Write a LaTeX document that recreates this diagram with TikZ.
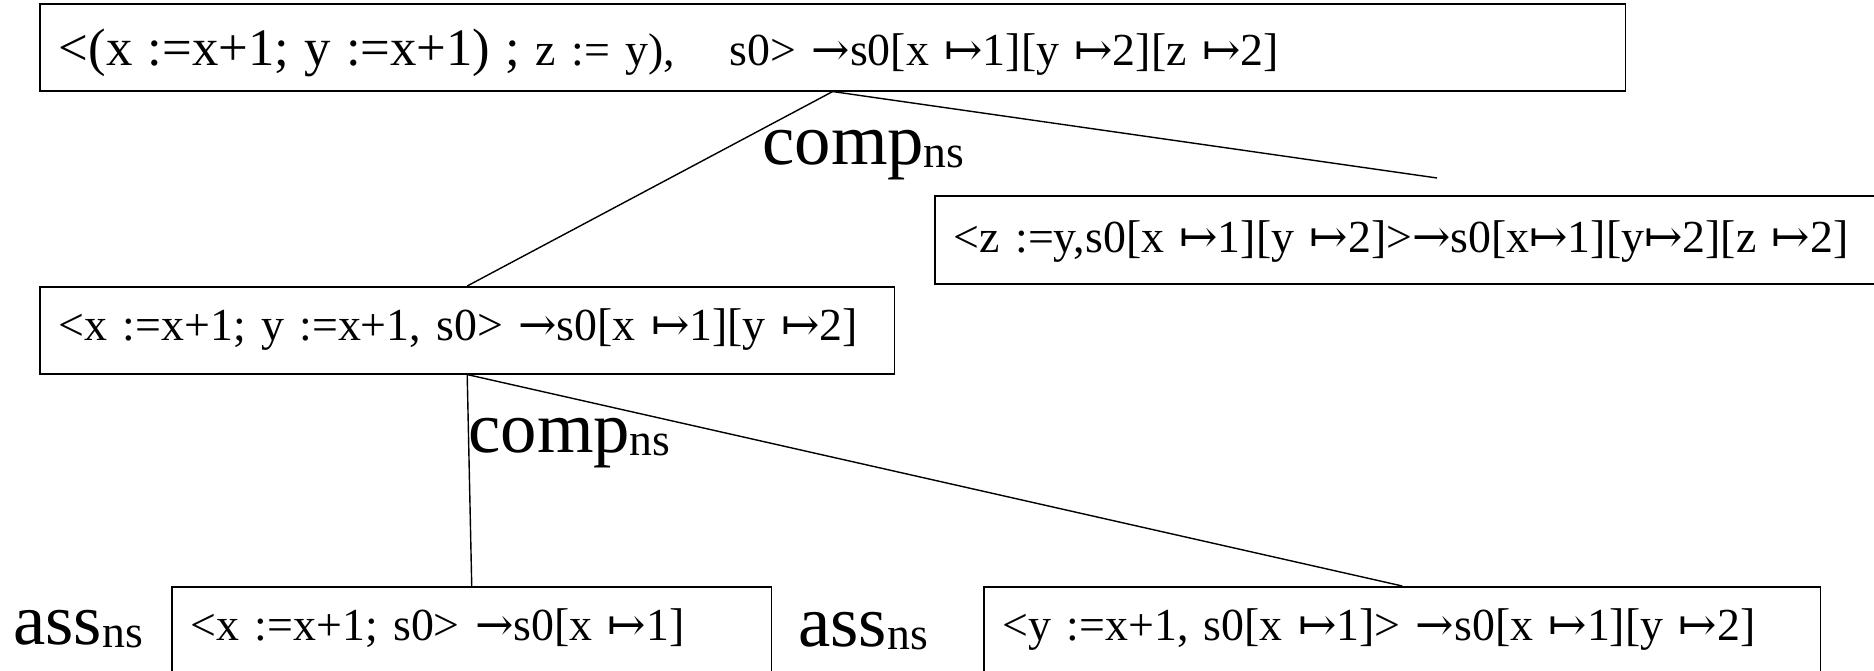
\documentclass[tikz,border=0pt]{standalone}
\usepackage{fontspec}
\setmainfont{Liberation Serif}
\newfontfamily\arrowfont{DejaVu Serif}
\usepackage{tikz}
\usetikzlibrary{positioning}

\newcommand{\ev}{{\arrowfont →}}
\newcommand{\upd}{{\arrowfont ↦}}
\newcommand{\rulename}[1]{#1\raisebox{-0.06cm}{\fontsize{26}{30}\selectfont ns}}

\begin{document}
\begin{tikzpicture}[
  x=0.02cm, y=-0.02cm,
  judgement/.style={
    draw, line width=0.9pt, anchor=north west,
    inner xsep=0.38cm, inner ysep=0pt,
    text height=1.08cm, text depth=0.66cm,
    align=left, font=\fontsize{26.1}{30}\selectfont
  },
  leaf/.style={judgement, text height=1.08cm, text depth=2cm},
  rulelabel/.style={anchor=base west, inner sep=0pt, font=\fontsize{41.4}{48}\selectfont},
  edge/.style={line width=0.8pt}
]
\useasboundingbox (0,0) rectangle (1874,671);

% ---- conclusion ----
\node[judgement, text width=30.96cm, text height=1.24cm, text depth=0.5cm] (goal) at (39,3)
  {{\fontsize{30}{34}\selectfont <(x :=x+1; y :=x+1) ;} z := y),\hspace{1.1cm}s0> \ev s0[x \upd1][y \upd2][z \upd2]};

% ---- premisses ----
\node[judgement, text width=16.34cm] (xyass) at (39,286)
  {<x :=x+1; y :=x+1, s0> \ev s0[x \upd1][y \upd2]};
\node[judgement, text width=18.76cm, text height=1.14cm, text depth=0.62cm] (zass) at (934,195)
  {<z :=y,s0[x \upd1][y \upd2]>\ev s0[x\upd1][y\upd2][z \upd2]};

% ---- axiomes ----
\node[leaf, text width=11.24cm] (xass) at (171,586)
  {<x :=x+1; s0> \ev s0[x \upd1]};
\node[leaf, text width=15.98cm] (yass) at (983,586)
  {<y :=x+1, s0[x \upd1]> \ev s0[x \upd1][y \upd2]};

% ---- regles ----
\node[rulelabel] (comptop) at (762,165) {\rulename{comp}};
\node[rulelabel] (compmid) at (468,453) {\rulename{comp}};
\node[rulelabel] (assleft) at (13,645)  {\rulename{ass}};
\node[rulelabel] (assmid)  at (798,647) {\rulename{ass}};

% ---- branches ----
\coordinate (zend) at (1437,178);
\draw[edge] (goal.south) -- (xyass.north);
\draw[edge] (goal.south) -- (zend);
\draw[edge] (xyass.south) -- (xass.north);
\draw[edge] (xyass.south) -- (yass.north);

\end{tikzpicture}
\end{document}
